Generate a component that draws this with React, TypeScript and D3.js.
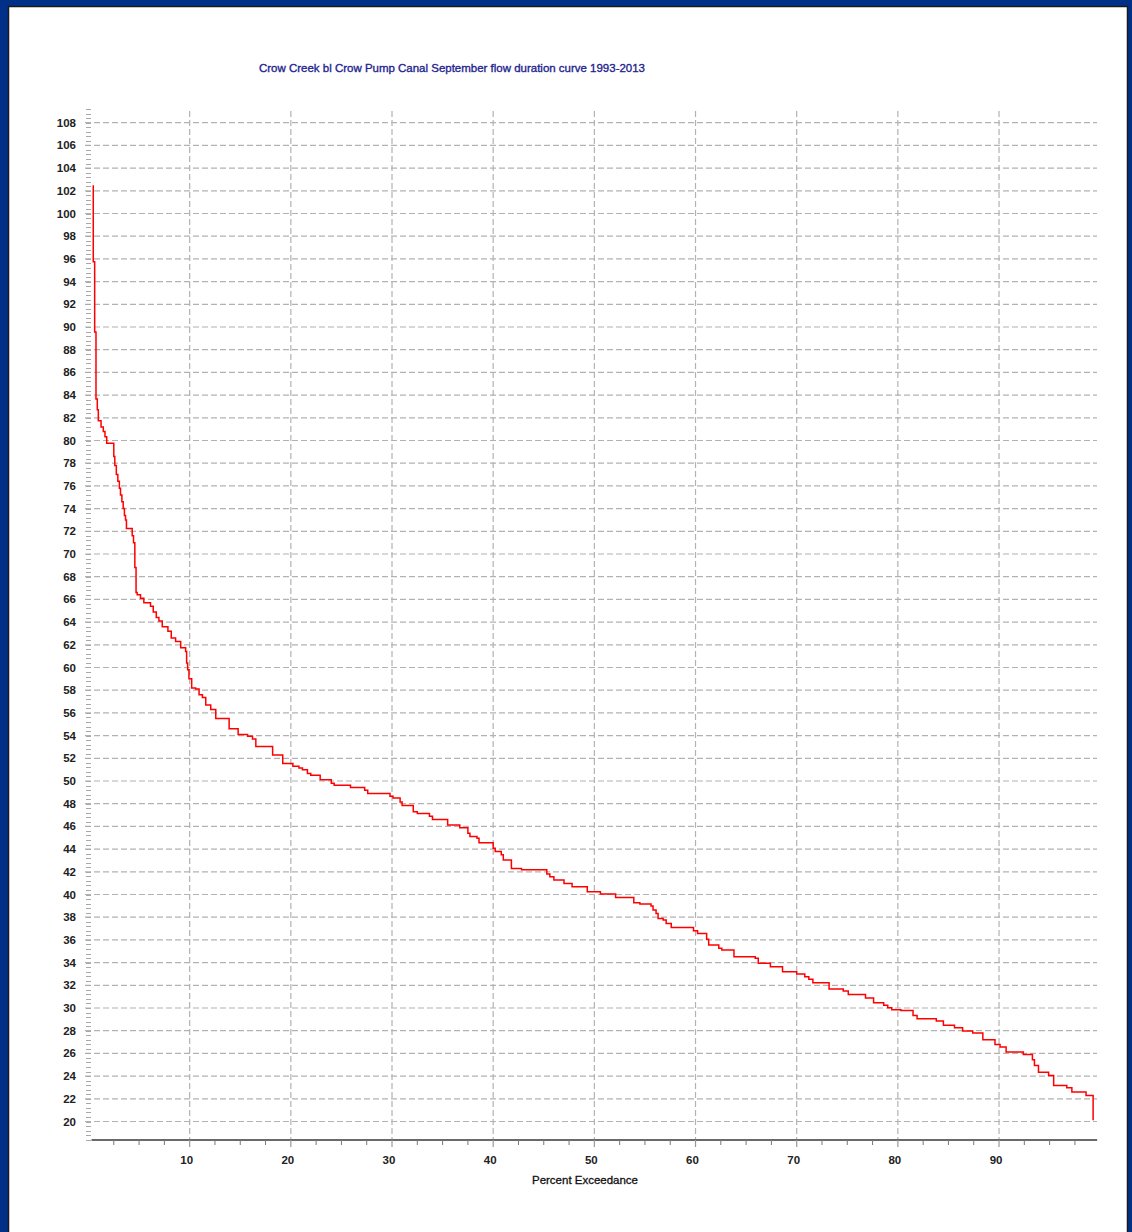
import React, { useEffect, useRef } from 'react';
import * as d3 from 'd3';

const chartTitle = 'Crow Creek bl Crow Pump Canal September flow duration curve 1993-2013';
const xAxisTitle = 'Percent Exceedance';

// step curve: at each percent the flow drops to the listed value
const percentExceedance = [
  0.47, 0.47, 0.61, 0.74, 0.87, 0.97, 1.24, 1.46, 1.63, 1.8,
  2.5, 2.6, 2.75, 2.9, 3.05, 3.16, 3.3, 3.43, 3.55, 3.66,
  3.75, 4.32, 4.45, 4.58, 4.7, 4.81, 5.14, 5.47, 6.13, 6.4,
  6.7, 6.96, 7.29, 7.85, 8.18, 8.61, 9.11, 9.6, 9.7, 9.8,
  9.93, 10.2, 10.59, 10.93, 11.26, 11.59, 12.08, 12.58, 13.9, 14.79,
  15.72, 16.21, 16.54, 18.2, 19.2, 20.2, 20.8, 21.15, 21.64, 21.97,
  22.9, 24.0, 24.28, 25.9, 27.3, 27.6, 29.8, 30.1, 30.8, 31.0,
  32.1, 32.5, 33.7, 34.0, 35.5, 36.7, 37.5, 37.7, 38.4, 38.6,
  40.0, 40.2, 40.8, 41.0, 41.8, 42.8, 45.3, 45.6, 46.0, 47.0,
  47.8, 49.3, 50.6, 52.1, 53.9, 54.5, 55.6, 55.8, 56.1, 56.3,
  56.8, 57.1, 57.6, 59.8, 60.2, 61.1, 61.3, 62.3, 62.6, 63.8,
  65.9, 66.2, 67.4, 68.6, 70.0, 70.8, 71.2, 71.6, 73.2, 74.6,
  75.1, 76.8, 77.6, 78.6, 79.0, 79.4, 80.3, 81.5, 81.9, 83.8,
  84.5, 85.6, 86.4, 87.4, 88.4, 89.6, 90.1, 90.7, 92.4, 93.3,
  93.5, 93.9, 94.9, 95.4, 96.7, 97.2, 98.6, 99.3,
];
const flowCfs = [
  102.5, 95.75, 89.56, 83.66, 82.7, 81.74, 81.2, 80.8, 80.33, 79.75,
  78.6, 77.8, 77.0, 76.4, 75.8, 75.2, 74.6, 74.0, 73.4, 73.0,
  72.25, 71.6, 71.0, 68.8, 66.6, 66.4, 66.1, 65.7, 65.4, 64.9,
  64.4, 64.1, 63.6, 63.2, 62.6, 62.3, 61.75, 61.4, 60.4, 59.8,
  59.0, 58.2, 58.1, 57.6, 57.35, 56.7, 56.3, 55.5, 54.6, 54.1,
  53.95, 53.7, 53.05, 52.3, 51.55, 51.3, 51.15, 51.0, 50.65, 50.5,
  50.12, 49.8, 49.62, 49.42, 49.18, 48.9, 48.66, 48.5, 48.16, 47.85,
  47.28, 47.14, 46.9, 46.6, 46.12, 45.88, 45.4, 45.1, 44.95, 44.57,
  44.07, 43.78, 43.5, 43.05, 42.3, 42.17, 41.8, 41.56, 41.27, 40.97,
  40.68, 40.24, 40.04, 39.74, 39.27, 39.16, 38.98, 38.63, 38.33, 37.89,
  37.75, 37.45, 37.1, 36.81, 36.57, 36.05, 35.55, 35.26, 35.11, 34.52,
  34.38, 33.94, 33.64, 33.2, 33.0, 32.76, 32.53, 32.23, 31.68, 31.5,
  31.18, 30.88, 30.47, 30.24, 30.03, 29.85, 29.78, 29.35, 29.06, 28.85,
  28.47, 28.26, 27.97, 27.79, 27.21, 26.79, 26.56, 26.12, 25.91, 25.44,
  24.94, 24.35, 24.06, 23.18, 22.97, 22.59, 22.29, 20.1,
];

const xTickValues = [10, 20, 30, 40, 50, 60, 70, 80, 90];
const yTickValues = [
  20, 22, 24, 26, 28, 30, 32, 34, 36, 38, 40, 42, 44, 46, 48, 50, 52, 54, 56, 58, 60, 62,
  64, 66, 68, 70, 72, 74, 76, 78, 80, 82, 84, 86, 88, 90, 92, 94, 96, 98, 100, 102, 104, 106, 108,
];

const W = 1132;
const H = 1232;

const FlowDurationChart = () => {
  const svgRef = useRef<SVGSVGElement>(null);

  useEffect(() => {
    const svg = d3.select(svgRef.current);
    svg.selectAll('*').remove();

    const x = d3.scaleLinear().domain([0, 100]).range([88.5, 1100.2]);
    const y = d3.scaleLinear().domain([20, 108]).range([1121.5, 122.7]);
    const axisY = 1140;
    const gridTop = 111;
    const gridLeft = 85;
    const gridRight = 1097;
    const font = 'Arial, "Liberation Sans", sans-serif';

    // frame
    svg.append('rect').attr('width', W).attr('height', H).attr('fill', '#003087');
    svg.append('rect')
      .attr('x', 8.5).attr('y', 6.5)
      .attr('width', 1119).attr('height', H)
      .attr('fill', '#fff')
      .attr('stroke', '#1a1a1a')
      .attr('stroke-width', 1.5);

    // title
    svg.append('text')
      .attr('x', 259).attr('y', 72)
      .attr('textLength', 386)
      .attr('lengthAdjust', 'spacingAndGlyphs')
      .style('font-family', font)
      .style('font-size', '11.5px')
      .style('fill', '#1f1f8f')
      .style('stroke', '#1f1f8f')
      .style('stroke-width', 0.35)
      .text(chartTitle);

    // horizontal grid
    svg.append('g').selectAll('line')
      .data(yTickValues)
      .enter().append('line')
      .attr('x1', gridLeft).attr('x2', gridRight)
      .attr('y1', d => y(d)).attr('y2', d => y(d))
      .style('stroke', '#b2b2b2')
      .style('stroke-width', 1.2)
      .style('stroke-dasharray', '6,3');

    // vertical grid
    svg.append('g').selectAll('line')
      .data(xTickValues)
      .enter().append('line')
      .attr('x1', d => x(d)).attr('x2', d => x(d))
      .attr('y1', gridTop).attr('y2', axisY)
      .style('stroke', '#b2b2b2')
      .style('stroke-width', 1.2)
      .style('stroke-dasharray', '6,3');

    // y minor ticks
    const yMinor = d3.range(0, 228).map(i => 18.4 + i * 0.4).filter(v => v <= 109.3);
    svg.append('g').selectAll('line')
      .data(yMinor)
      .enter().append('line')
      .attr('x1', 86).attr('x2', 91)
      .attr('y1', d => Math.round(y(d)) + 0.5).attr('y2', d => Math.round(y(d)) + 0.5)
      .style('stroke', '#a8a8a8')
      .style('stroke-width', 1);

    // x axis
    svg.append('line')
      .attr('x1', x(0.3)).attr('x2', x(99.7))
      .attr('y1', axisY).attr('y2', axisY)
      .style('stroke', '#6a6a6a')
      .style('stroke-width', 2);

    const xMinor = d3.range(1, 40).map(i => i * 2.5).filter(v => v % 10 !== 0);
    svg.append('g').selectAll('line')
      .data(xMinor)
      .enter().append('line')
      .attr('x1', d => x(d)).attr('x2', d => x(d))
      .attr('y1', axisY).attr('y2', axisY + 5)
      .style('stroke', '#777')
      .style('stroke-width', 1);

    svg.append('g').selectAll('line')
      .data(xTickValues)
      .enter().append('line')
      .attr('x1', d => x(d)).attr('x2', d => x(d))
      .attr('y1', axisY).attr('y2', axisY + 7)
      .style('stroke', '#999')
      .style('stroke-width', 1.2);

    // tick labels
    svg.append('g').selectAll('text')
      .data(yTickValues)
      .enter().append('text')
      .attr('x', 76)
      .attr('y', d => y(d) + 4)
      .attr('text-anchor', 'end')
      .style('font-family', font)
      .style('font-size', '11.5px')
      .style('font-weight', 'bold')
      .style('fill', '#222')
      .text(d => d);

    svg.append('g').selectAll('text')
      .data(xTickValues)
      .enter().append('text')
      .attr('x', d => x(d) - 3)
      .attr('y', 1164)
      .attr('text-anchor', 'middle')
      .style('font-family', font)
      .style('font-size', '11.5px')
      .style('font-weight', 'bold')
      .style('fill', '#222')
      .text(d => d);

    svg.append('text')
      .attr('x', 532).attr('y', 1184)
      .attr('textLength', 106)
      .attr('lengthAdjust', 'spacingAndGlyphs')
      .style('font-family', font)
      .style('font-size', '11px')
      .style('fill', '#111')
      .style('stroke', '#111')
      .style('stroke-width', 0.3)
      .text(xAxisTitle);

    // flow duration curve
    const points = percentExceedance.map((p, i) => [p, flowCfs[i]] as [number, number]);
    const line = d3.line<[number, number]>()
      .x(d => x(d[0]))
      .y(d => y(d[1]))
      .curve(d3.curveStepAfter);

    svg.append('path')
      .datum(points)
      .attr('d', line)
      .style('fill', 'none')
      .style('stroke', '#ff0000')
      .style('stroke-width', 1.5);
  }, []);

  return (
    <svg
      ref={svgRef}
      width={W}
      height={H}
      style={{ position: 'absolute', left: 0, top: 0, display: 'block' }}
    ></svg>
  );
};

export default function App() {
  return <FlowDurationChart />;
}
